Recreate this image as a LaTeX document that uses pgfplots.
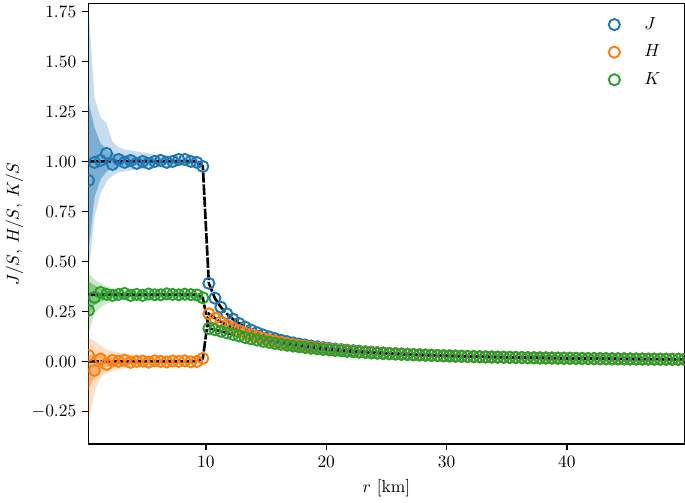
\documentclass[border=0pt]{standalone}
\usepackage{pgfplots}
\pgfplotsset{compat=1.18}
\usepackage{pgfplotstable}
\usepgfplotslibrary{fillbetween}

\definecolor{C0}{HTML}{1F77B4}
\definecolor{C1}{HTML}{FF7F0E}
\definecolor{C2}{HTML}{2CA02C}

% r, measured J H K (markers) and exact solution (Jx Hx Kx)
\pgfplotstableread{
r J Jx H Hx K Kx
0.25 0.905 1 0.030 0 0.255 0.3333
0.75 0.995 1 -0.045 0 0.320 0.3333
1.25 1.005 1 0.012 0 0.345 0.3333
1.75 1.040 1 -0.015 0 0.335 0.3333
2.25 0.985 1 0.005 0 0.330 0.3333
2.75 1.010 1 0.000 0 0.335 0.3333
3.25 0.995 1 0.006 0 0.340 0.3333
3.75 1.005 1 -0.005 0 0.330 0.3333
4.25 0.990 1 0.000 0 0.335 0.3333
4.75 1.000 1 0.002 0 0.330 0.3333
5.25 0.990 1 -0.004 0 0.337 0.3333
5.75 1.000 1 0.003 0 0.333 0.3333
6.25 1.005 1 0.000 0 0.333 0.3333
6.75 0.995 1 -0.003 0 0.338 0.3333
7.25 1.000 1 0.002 0 0.335 0.3333
7.75 1.010 1 0.000 0 0.333 0.3333
8.25 1.010 1 0.003 0 0.336 0.3333
8.75 1.000 1 -0.002 0 0.334 0.3333
9.25 0.995 1 0.000 0 0.332 0.3333
9.75 0.975 0.975 0.015 0.015 0.318 0.318
10.25 0.3902 0.3902 0.2380 0.2380 0.1649 0.1649
10.75 0.3165 0.3165 0.2163 0.2163 0.1584 0.1584
11.25 0.2709 0.2709 0.1975 0.1975 0.1506 0.1506
11.75 0.2375 0.2375 0.1811 0.1811 0.1425 0.1425
12.25 0.2112 0.2112 0.1666 0.1666 0.1346 0.1346
12.75 0.1898 0.1898 0.1538 0.1538 0.1269 0.1269
13.25 0.1720 0.1720 0.1424 0.1424 0.1196 0.1196
13.75 0.1568 0.1568 0.1322 0.1322 0.1128 0.1128
14.25 0.1438 0.1438 0.1231 0.1231 0.1064 0.1064
14.75 0.1325 0.1325 0.1149 0.1149 0.1005 0.1005
15.25 0.1225 0.1225 0.1075 0.1075 0.0949 0.0949
15.75 0.1137 0.1137 0.1008 0.1008 0.0898 0.0898
16.25 0.1059 0.1059 0.0947 0.0947 0.0851 0.0851
16.75 0.0989 0.0989 0.0891 0.0891 0.0806 0.0806
17.25 0.0926 0.0926 0.0840 0.0840 0.0765 0.0765
17.75 0.0869 0.0869 0.0794 0.0794 0.0727 0.0727
18.25 0.0817 0.0817 0.0751 0.0751 0.0691 0.0691
18.75 0.0770 0.0770 0.0711 0.0711 0.0658 0.0658
19.25 0.0728 0.0728 0.0675 0.0675 0.0627 0.0627
19.75 0.0688 0.0688 0.0641 0.0641 0.0598 0.0598
20.25 0.0652 0.0652 0.0610 0.0610 0.0571 0.0571
20.75 0.0619 0.0619 0.0581 0.0581 0.0546 0.0546
21.25 0.0588 0.0588 0.0554 0.0554 0.0522 0.0522
21.75 0.0560 0.0560 0.0529 0.0529 0.0500 0.0500
22.25 0.0533 0.0533 0.0505 0.0505 0.0479 0.0479
22.75 0.0509 0.0509 0.0483 0.0483 0.0459 0.0459
23.25 0.0486 0.0486 0.0463 0.0463 0.0440 0.0440
23.75 0.0465 0.0465 0.0443 0.0443 0.0423 0.0423
24.25 0.0445 0.0445 0.0425 0.0425 0.0407 0.0407
24.75 0.0426 0.0426 0.0408 0.0408 0.0391 0.0391
25.25 0.0409 0.0409 0.0392 0.0392 0.0376 0.0376
25.75 0.0393 0.0393 0.0377 0.0377 0.0363 0.0363
26.25 0.0377 0.0377 0.0363 0.0363 0.0349 0.0349
26.75 0.0363 0.0363 0.0349 0.0349 0.0337 0.0337
27.25 0.0349 0.0349 0.0337 0.0337 0.0325 0.0325
27.75 0.0336 0.0336 0.0325 0.0325 0.0314 0.0314
28.25 0.0324 0.0324 0.0313 0.0313 0.0303 0.0303
28.75 0.0312 0.0312 0.0303 0.0303 0.0293 0.0293
29.25 0.0301 0.0301 0.0292 0.0292 0.0284 0.0284
29.75 0.0291 0.0291 0.0283 0.0283 0.0274 0.0274
30.25 0.0281 0.0281 0.0273 0.0273 0.0266 0.0266
30.75 0.0272 0.0272 0.0264 0.0264 0.0257 0.0257
31.25 0.0263 0.0263 0.0256 0.0256 0.0249 0.0249
31.75 0.0254 0.0254 0.0248 0.0248 0.0242 0.0242
32.25 0.0246 0.0246 0.0240 0.0240 0.0235 0.0235
32.75 0.0239 0.0239 0.0233 0.0233 0.0228 0.0228
33.25 0.0232 0.0232 0.0226 0.0226 0.0221 0.0221
33.75 0.0225 0.0225 0.0219 0.0219 0.0215 0.0215
34.25 0.0218 0.0218 0.0213 0.0213 0.0209 0.0209
34.75 0.0212 0.0212 0.0207 0.0207 0.0203 0.0203
35.25 0.0205 0.0205 0.0201 0.0201 0.0197 0.0197
35.75 0.0200 0.0200 0.0196 0.0196 0.0192 0.0192
36.25 0.0194 0.0194 0.0190 0.0190 0.0187 0.0187
36.75 0.0189 0.0189 0.0185 0.0185 0.0182 0.0182
37.25 0.0184 0.0184 0.0180 0.0180 0.0177 0.0177
37.75 0.0179 0.0179 0.0175 0.0175 0.0172 0.0172
38.25 0.0174 0.0174 0.0171 0.0171 0.0168 0.0168
38.75 0.0169 0.0169 0.0167 0.0167 0.0164 0.0164
39.25 0.0165 0.0165 0.0162 0.0162 0.0160 0.0160
39.75 0.0161 0.0161 0.0158 0.0158 0.0156 0.0156
40.25 0.0157 0.0157 0.0154 0.0154 0.0152 0.0152
40.75 0.0153 0.0153 0.0151 0.0151 0.0148 0.0148
41.25 0.0149 0.0149 0.0147 0.0147 0.0145 0.0145
41.75 0.0146 0.0146 0.0143 0.0143 0.0141 0.0141
42.25 0.0142 0.0142 0.0140 0.0140 0.0138 0.0138
42.75 0.0139 0.0139 0.0137 0.0137 0.0135 0.0135
43.25 0.0136 0.0136 0.0134 0.0134 0.0132 0.0132
43.75 0.0132 0.0132 0.0131 0.0131 0.0129 0.0129
44.25 0.0129 0.0129 0.0128 0.0128 0.0126 0.0126
44.75 0.0126 0.0126 0.0125 0.0125 0.0123 0.0123
45.25 0.0124 0.0124 0.0122 0.0122 0.0121 0.0121
45.75 0.0121 0.0121 0.0119 0.0119 0.0118 0.0118
46.25 0.0118 0.0118 0.0117 0.0117 0.0116 0.0116
46.75 0.0116 0.0116 0.0114 0.0114 0.0113 0.0113
47.25 0.0113 0.0113 0.0112 0.0112 0.0111 0.0111
47.75 0.0111 0.0111 0.0110 0.0110 0.0108 0.0108
48.25 0.0109 0.0109 0.0107 0.0107 0.0106 0.0106
48.75 0.0106 0.0106 0.0105 0.0105 0.0104 0.0104
49.25 0.0104 0.0104 0.0103 0.0103 0.0102 0.0102
49.75 0.0102 0.0102 0.0101 0.0101 0.0100 0.0100
}\data

% spread of the runs: outer (l2,h2) and inner (l1,h1) band edges
\pgfplotstableread{
r Jl2 Jl1 Jh1 Jh2 Hl2 Hl1 Hh1 Hh2 Kl2 Kl1 Kh1 Kh2
0.25 0.45 0.55 1.30 1.77 -0.30 -0.14 0.03 0.12 0.14 0.22 0.40 0.44
0.75 0.72 0.82 1.17 1.32 -0.15 -0.08 0.04 0.10 0.24 0.28 0.38 0.41
1.25 0.84 0.91 1.09 1.22 -0.08 -0.04 0.03 0.08 0.27 0.30 0.365 0.39
1.75 0.90 0.95 1.06 1.19 -0.06 -0.03 0.025 0.06 0.29 0.31 0.355 0.375
2.25 0.93 0.965 1.04 1.10 -0.045 -0.02 0.02 0.05 0.30 0.315 0.35 0.365
2.75 0.945 0.97 1.035 1.07 -0.04 -0.018 0.018 0.045 0.305 0.318 0.348 0.36
3.25 0.95 0.975 1.03 1.06 -0.035 -0.016 0.017 0.04 0.31 0.32 0.346 0.356
3.75 0.955 0.978 1.027 1.055 -0.03 -0.014 0.015 0.035 0.312 0.322 0.345 0.354
4.25 0.96 0.98 1.022 1.05 -0.025 -0.012 0.013 0.03 0.313 0.323 0.344 0.353
4.75 0.962 0.982 1.02 1.045 -0.022 -0.011 0.012 0.027 0.314 0.323 0.343 0.352
5.25 0.965 0.983 1.018 1.04 -0.02 -0.01 0.011 0.024 0.315 0.324 0.343 0.351
5.75 0.968 0.985 1.017 1.035 -0.018 -0.009 0.01 0.02 0.315 0.324 0.342 0.351
6.25 0.97 0.986 1.016 1.033 -0.016 -0.008 0.009 0.018 0.316 0.325 0.342 0.350
6.75 0.972 0.987 1.015 1.03 -0.015 -0.008 0.008 0.016 0.316 0.325 0.342 0.350
7.25 0.974 0.988 1.014 1.028 -0.014 -0.007 0.008 0.015 0.317 0.325 0.342 0.349
7.75 0.976 0.989 1.013 1.026 -0.013 -0.007 0.007 0.014 0.317 0.325 0.342 0.349
8.25 0.977 0.99 1.012 1.025 -0.013 -0.006 0.007 0.013 0.318 0.325 0.342 0.349
8.75 0.978 0.99 1.011 1.023 -0.012 -0.006 0.006 0.012 0.318 0.325 0.342 0.349
9.25 0.979 0.991 1.01 1.022 -0.012 -0.006 0.006 0.012 0.318 0.325 0.341 0.349
9.75 0.955 0.967 0.985 0.995 0.0 0.006 0.02 0.028 0.30 0.31 0.326 0.334
}\bands

\begin{document}
\begin{tikzpicture}
\begin{axis}[
  width=342pt, height=253pt, scale only axis,
  xmin=0.25, xmax=49.75, ymin=-0.414, ymax=1.79,
  xtick={10,20,30,40},
  ytick={-0.25,0,0.25,0.5,0.75,1,1.25,1.5,1.75},
  yticklabel style={/pgf/number format/.cd, fixed, fixed zerofill, precision=2},
  tick align=outside, xtick pos=bottom, ytick pos=left,
  major tick length=3.5pt,
  axis line style={line width=0.8pt},
  every tick/.style={black, line width=0.8pt},
  xlabel={$r$ [km]}, ylabel={$J/S$, $H/S$, $K/S$},
  ylabel style={yshift=-2pt},
  clip marker paths=true,
  legend style={draw=none, fill=none, at={(0.975,0.985)}, anchor=north east,
    row sep=3.5pt, /tikz/every odd column/.append style={column sep=12pt}},
  legend cell align=left,
  legend image code/.code={\draw[mark repeat=2,mark phase=2] plot coordinates {(0cm,0cm) (0.3cm,0cm) (0.6cm,0cm)};},
]
% bands
\addplot[name path=Jl2, draw=none, forget plot] table[x=r,y=Jl2]{\bands};
\addplot[name path=Jh2, draw=none, forget plot] table[x=r,y=Jh2]{\bands};
\addplot[name path=Jl1, draw=none, forget plot] table[x=r,y=Jl1]{\bands};
\addplot[name path=Jh1, draw=none, forget plot] table[x=r,y=Jh1]{\bands};
\addplot[fill=C0, fill opacity=0.25, draw=none, forget plot] fill between[of=Jh2 and Jl2];
\addplot[fill=C0, fill opacity=0.45, draw=none, forget plot] fill between[of=Jh1 and Jl1];

\addplot[name path=Hl2, draw=none, forget plot] table[x=r,y=Hl2]{\bands};
\addplot[name path=Hh2, draw=none, forget plot] table[x=r,y=Hh2]{\bands};
\addplot[name path=Hl1, draw=none, forget plot] table[x=r,y=Hl1]{\bands};
\addplot[name path=Hh1, draw=none, forget plot] table[x=r,y=Hh1]{\bands};
\addplot[fill=C1, fill opacity=0.25, draw=none, forget plot] fill between[of=Hh2 and Hl2];
\addplot[fill=C1, fill opacity=0.45, draw=none, forget plot] fill between[of=Hh1 and Hl1];

\addplot[name path=Kl2, draw=none, forget plot] table[x=r,y=Kl2]{\bands};
\addplot[name path=Kh2, draw=none, forget plot] table[x=r,y=Kh2]{\bands};
\addplot[name path=Kl1, draw=none, forget plot] table[x=r,y=Kl1]{\bands};
\addplot[name path=Kh1, draw=none, forget plot] table[x=r,y=Kh1]{\bands};
\addplot[fill=C2, fill opacity=0.25, draw=none, forget plot] fill between[of=Kh2 and Kl2];
\addplot[fill=C2, fill opacity=0.45, draw=none, forget plot] fill between[of=Kh1 and Kl1];

% exact solution
\addplot[black, line width=1.5pt, dash pattern=on 6pt off 1pt, forget plot] table[x=r,y=Jx]{\data};
\addplot[black, line width=1.5pt, dash pattern=on 6pt off 1pt, forget plot] table[x=r,y=Hx]{\data};
\addplot[black, line width=1.5pt, dash pattern=on 6pt off 1pt, forget plot] table[x=r,y=Kx]{\data};

% measured
\addplot[only marks, mark=o, mark size=3.2pt, C0, line width=1.1pt] table[x=r,y=J]{\data};
\addlegendentry{$J$}
\addplot[only marks, mark=o, mark size=3.2pt, C1, line width=1.1pt] table[x=r,y=H]{\data};
\addlegendentry{$H$}
\addplot[only marks, mark=o, mark size=3.2pt, C2, line width=1.1pt] table[x=r,y=K]{\data};
\addlegendentry{$K$}
\end{axis}
\end{tikzpicture}
\end{document}
